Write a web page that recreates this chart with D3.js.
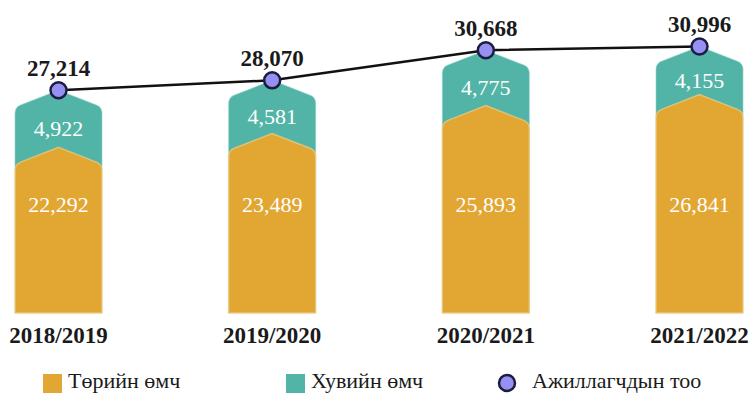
<!DOCTYPE html>
<html><head><meta charset="utf-8">
<script src="https://cdn.jsdelivr.net/npm/d3@7"></script>
<style>body{margin:0;background:#fff}svg{display:block}</style>
</head><body><svg id="c" width="750" height="394"></svg>
<script>
const categories = ["2018/2019","2019/2020","2020/2021","2021/2022"];
const stateOwned = [22292,23489,25893,26841];
const privateOwned = [4922,4581,4775,4155];
const employees = [27214,28070,30668,30996];
const seriesNames = ["Төрийн өмч","Хувийн өмч","Ажиллагчдын тоо"];

const COL_OR = "#E2A632", COL_TE = "#52B4A6", COL_PT = "#9590F2", COL_PS = "#1c1c40";
const FONT = "'Liberation Serif','Times New Roman',serif";
const svg = d3.select("#c");
const baseY = 313;
const x = d3.scalePoint().domain(categories).range([58.5, 699.5]);
const y = d3.scaleLinear().domain([8000, 35000]).range([baseY, 0]);
const fmt = d3.format(",");
const bw = 87, depth = 17, rr = 6;

function shape(cx, top){
  const x0 = cx - bw/2, x1 = cx + bw/2, ys = top + depth;
  const len = Math.hypot(bw/2, depth);
  const ux = (bw/2)/len, uy = depth/len;
  const p = d3.path();
  p.moveTo(x0, baseY);
  p.lineTo(x0, ys + rr);
  p.quadraticCurveTo(x0, ys, x0 + ux*rr, ys - uy*rr);
  p.lineTo(cx, top);
  p.lineTo(x1 - ux*rr, ys - uy*rr);
  p.quadraticCurveTo(x1, ys, x1, ys + rr);
  p.lineTo(x1, baseY);
  p.closePath();
  return p.toString();
}

const data = categories.map((c,i)=>({c, s:stateOwned[i], p:privateOwned[i], t:stateOwned[i]+privateOwned[i], e:employees[i]}));

const g = svg.append("g");
g.selectAll("path.te").data(data).join("path").attr("class","te")
  .attr("d", d=>shape(x(d.c), y(d.t)))
  .attr("fill", COL_TE).attr("stroke","#8fd3c8").attr("stroke-width",1).attr("stroke-opacity",0.6);
g.selectAll("path.or").data(data).join("path").attr("class","or")
  .attr("d", d=>shape(x(d.c), y(d.s)))
  .attr("fill", COL_OR).attr("stroke","#f2cf85").attr("stroke-width",1.5).attr("stroke-opacity",0.7);

g.selectAll("text.vs").data(data).join("text").attr("class","vs")
  .attr("x", d=>x(d.c)).attr("y", baseY - 101)
  .attr("text-anchor","middle").attr("fill","#fff")
  .style("font-family",FONT).style("font-size","22px")
  .text(d=>fmt(d.s));
g.selectAll("text.vp").data(data).join("text").attr("class","vp")
  .attr("x", d=>x(d.c)).attr("y", d=>(y(d.t)+y(d.s))/2 + 17)
  .attr("text-anchor","middle").attr("fill","#fff")
  .style("font-family",FONT).style("font-size","22px")
  .text(d=>fmt(d.p));

const line = d3.line().x(d=>x(d.c)).y(d=>y(d.e));
svg.append("path").datum(data).attr("d", line)
  .attr("fill","none").attr("stroke","#111").attr("stroke-width",2.5);
svg.selectAll("circle.pt").data(data).join("circle").attr("class","pt")
  .attr("cx", d=>x(d.c)).attr("cy", d=>y(d.e)).attr("r",8)
  .attr("fill",COL_PT).attr("stroke",COL_PS).attr("stroke-width",2.5);
svg.selectAll("text.ve").data(data).join("text").attr("class","ve")
  .attr("x", d=>x(d.c)).attr("y", d=>y(d.e)-14)
  .attr("text-anchor","middle").attr("fill","#1a1a1a")
  .style("font-family",FONT).style("font-size","23px").style("font-weight","bold")
  .text(d=>fmt(d.e));

svg.selectAll("text.cat").data(categories).join("text").attr("class","cat")
  .attr("x", d=>x(d)).attr("y", 343)
  .attr("text-anchor","middle").attr("fill","#1a1a1a")
  .style("font-family",FONT).style("font-size","23px").style("font-weight","bold")
  .text(d=>d);

const leg = [{n:seriesNames[0], t:"sq", c:COL_OR, x:43},{n:seriesNames[1], t:"sq", c:COL_TE, x:286},{n:seriesNames[2], t:"ci", c:COL_PT, x:498}];
const lg = svg.selectAll("g.leg").data(leg).join("g").attr("class","leg")
  .attr("transform", d=>`translate(${d.x},0)`);
lg.filter(d=>d.t==="sq").append("rect").attr("x",0).attr("y",374).attr("width",19).attr("height",19).attr("fill",d=>d.c);
lg.filter(d=>d.t==="ci").append("circle").attr("cx",9).attr("cy",383).attr("r",8)
  .attr("fill",COL_PT).attr("stroke",COL_PS).attr("stroke-width",2.5);
lg.append("text").attr("x", d=>d.t==="sq"?25:34).attr("y",388)
  .attr("fill","#1a1a1a").style("font-family",FONT).style("font-size","22px")
  .text(d=>d.n);
</script></body></html>
